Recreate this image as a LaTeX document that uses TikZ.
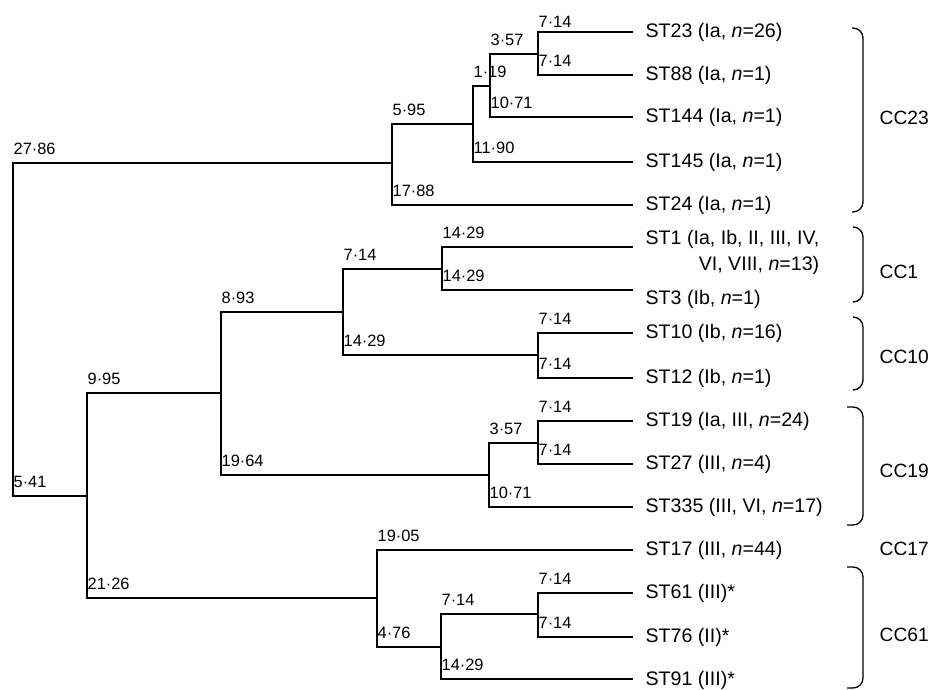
\documentclass[tikz,border=0pt]{standalone}
\usepackage{fontspec}
\setmainfont{Liberation Sans}
\begin{document}
\begin{tikzpicture}[x=0.5pt,y=-0.5pt,line width=0.65pt]

    \tikzset{blen/.style={pos=0.5,anchor=base west,inner sep=0pt,yshift=4.25pt,font=\fontsize{8.2}{10}\selectfont},
        leaf/.style={anchor=west,inner sep=0pt,xshift=6pt,font=\fontsize{9.8}{12}\selectfont},
        cclab/.style={anchor=west,inner sep=0pt,font=\fontsize{9.6}{12}\selectfont},
        brace/.style={rounded corners=5pt}}
    \useasboundingbox (0,0) rectangle (931,690);

    % inner nodes of the tree
    \coordinate (n0) at (13,330);
    \coordinate (n1) at (392,163);
    \coordinate (n2) at (473,124);
    \coordinate (n3) at (490,86);
    \coordinate (n4) at (538,54);
    \coordinate (n5) at (87,496);
    \coordinate (n6) at (221,393);
    \coordinate (n7) at (343,312);
    \coordinate (n8) at (442,269);
    \coordinate (n9) at (538,355);
    \coordinate (n10) at (489,475);
    \coordinate (n11) at (538,443);
    \coordinate (n12) at (377,598);
    \coordinate (n13) at (441,647);
    \coordinate (n14) at (538,614);

    % leaves
    \path (633,32) coordinate (t23) node[leaf] (st23) {ST23 (Ia, \textit{n}=26)};
    \path (633,75) coordinate (t88) node[leaf] (st88) {ST88 (Ia, \textit{n}=1)};
    \path (633,117) coordinate (t144) node[leaf] (st144) {ST144 (Ia, \textit{n}=1)};
    \path (633,162) coordinate (t145) node[leaf] (st145) {ST145 (Ia, \textit{n}=1)};
    \path (633,205) coordinate (t24) node[leaf] (st24) {ST24 (Ia, \textit{n}=1)};
    \path (633,247) coordinate (t1) node[leaf,align=right,yshift=-2.5pt,font=\fontsize{9.8}{13}\selectfont] (st1)
        {ST1 (Ia, Ib, II, III, IV,\\ VI, VIII, \textit{n}=13)};
    \path (633,290) coordinate (t3) node[leaf,yshift=-4.5pt] (st3) {ST3 (Ib, \textit{n}=1)};
    \path (633,333) coordinate (t10) node[leaf] (st10) {ST10 (Ib, \textit{n}=16)};
    \path (633,378) coordinate (t12) node[leaf] (st12) {ST12 (Ib, \textit{n}=1)};
    \path (633,421) coordinate (t19) node[leaf] (st19) {ST19 (Ia, III, \textit{n}=24)};
    \path (633,464) coordinate (t27) node[leaf] (st27) {ST27 (III, \textit{n}=4)};
    \path (633,507) coordinate (t335) node[leaf] (st335) {ST335 (III, VI, \textit{n}=17)};
    \path (633,550) coordinate (t17) node[leaf] (st17) {ST17 (III, \textit{n}=44)};
    \path (633,593) coordinate (t61) node[leaf] (st61) {ST61 (III)*};
    \path (633,637) coordinate (t76) node[leaf] (st76) {ST76 (II)*};
    \path (633,679) coordinate (t91) node[leaf,yshift=-0.5pt] (st91) {ST91 (III)*};

    % branches with their lengths
    \draw (n0) |- (n1) node[blen] (d1) {27·86};
    \draw (n0) |- (n5) node[blen] (d2) {5·41};
    \draw (n1) |- (n2) node[blen] (d3) {5·95};
    \draw (n1) |- (t24) node[blen] (d4) {17·88};
    \draw (n2) |- (n3) node[blen] (d5) {1·19};
    \draw (n2) |- (t145) node[blen] (d6) {11·90};
    \draw (n3) |- (n4) node[blen] (d7) {3·57};
    \draw (n3) |- (t144) node[blen] (d8) {10·71};
    \draw (n4) |- (t23) node[blen,yshift=-2pt] (d9) {7·14};
    \draw (n4) |- (t88) node[blen] (d10) {7·14};

    \draw (n5) |- (n6) node[blen] (d11) {9·95};
    \draw (n5) |- (n12) node[blen] (d12) {21·26};
    \draw (n6) |- (n7) node[blen] (d13) {8·93};
    \draw (n6) |- (n10) node[blen] (d14) {19·64};
    \draw (n7) |- (n8) node[blen] (d15) {7·14};
    \draw (n7) |- (n9) node[blen] (d16) {14·29};
    \draw (n8) |- (t1) node[blen] (d17) {14·29};
    \draw (n8) |- (t3) node[blen] (d18) {14·29};
    \draw (n9) |- (t10) node[blen] (d19) {7·14};
    \draw (n9) |- (t12) node[blen] (d20) {7·14};
    \draw (n10) |- (n11) node[blen] (d21) {3·57};
    \draw (n10) |- (t335) node[blen] (d22) {10·71};
    \draw (n11) |- (t19) node[blen] (d23) {7·14};
    \draw (n11) |- (t27) node[blen] (d24) {7·14};

    \draw (n12) |- (t17) node[blen] (d25) {19·05};
    \draw (n12) |- (n13) node[blen] (d26) {4·76};
    \draw (n13) |- (n14) node[blen] (d27) {7·14};
    \draw (n13) |- (t91) node[blen] (d28) {14·29};
    \draw (n14) |- (t61) node[blen] (d29) {7·14};
    \draw (n14) |- (t76) node[blen] (d30) {7·14};

    % clonal complexes
    \draw[brace] (852,28) -| (863,120) |- (852,212);
    \draw[brace] (854,227) -| (863,265) |- (854,302);
    \draw[brace] (854,317) -| (863,353) |- (854,390);
    \draw[brace] (847,407) -| (863,466) |- (847,525);
    \draw[brace] (847,567) -| (863,628) |- (847,688);

    \node[cclab] (cc23) at (879,118) {CC23};
    \node[cclab] (cc1) at (879,272) {CC1};
    \node[cclab] (cc10) at (879,357) {CC10};
    \node[cclab] (cc19) at (879,471) {CC19};
    \node[cclab] (cc17) at (879,549) {CC17};
    \node[cclab] (cc61) at (879,635) {CC61};

\end{tikzpicture}
\end{document}
